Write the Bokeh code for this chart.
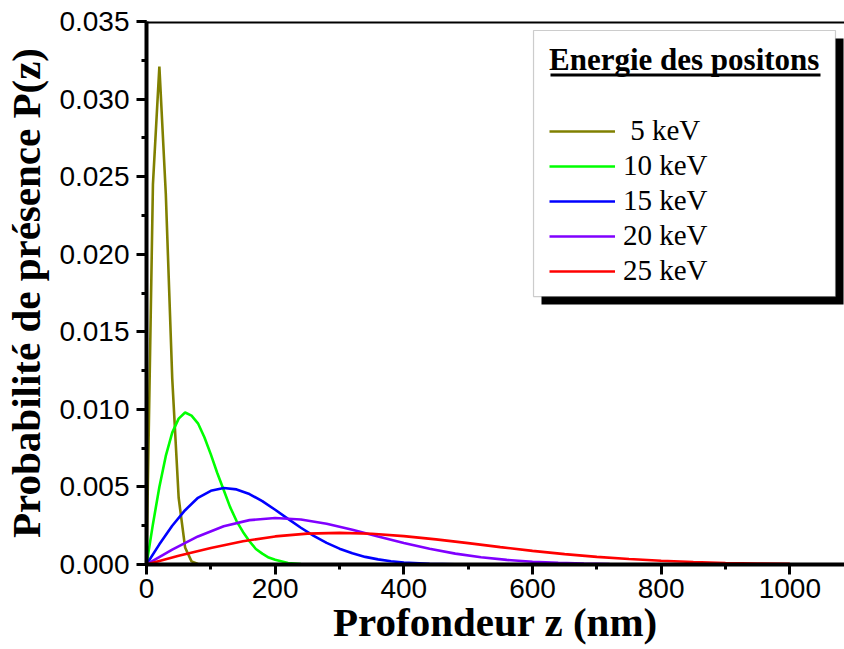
from bokeh.plotting import figure
from bokeh.models import (Range1d, BoxAnnotation, Legend, LegendItem, Span,
                          SingleIntervalTicker, NumeralTickFormatter)
from bokeh.embed import file_html
from bokeh.resources import INLINE

# ---- data ----
z_5kev = [0, 10, 20, 30, 40, 50, 60, 70, 80, 90, 1000]
p_5kev = [0, 0.0245, 0.0321, 0.0239, 0.0120, 0.0043, 0.0011, 0.0002, 0.00003, 0, 0]

z_10kev = [0, 10, 20, 30, 40, 50, 60, 70, 80, 90, 100, 110, 120, 130, 140, 150,
           160, 170, 180, 190, 200, 220, 240, 260, 1000]
p_10kev = [0, 0.0026, 0.0050, 0.0070, 0.0085, 0.0094, 0.0098, 0.0096, 0.0091, 0.0082,
           0.0071, 0.0059, 0.0048, 0.0037, 0.0028, 0.0021, 0.0015, 0.0010, 0.0007,
           0.00045, 0.0003, 0.0001, 0.00003, 0.00001, 0]

z_15kev = [0, 20, 40, 60, 80, 100, 120, 140, 160, 180, 200, 220, 240, 260, 280, 300,
           320, 340, 360, 380, 400, 440, 480, 520, 1000]
p_15kev = [0, 0.0013, 0.0025, 0.0035, 0.0043, 0.00475, 0.00493, 0.00484, 0.00454,
           0.00408, 0.00353, 0.00294, 0.00237, 0.00184, 0.00139, 0.00102, 0.00072,
           0.00049, 0.00033, 0.00021, 0.00013, 0.00005, 0.00002, 0.000005, 0]

z_20kev = [0, 40, 80, 120, 160, 200, 240, 280, 320, 360, 400, 440, 480, 520, 560, 600,
           640, 680, 720, 760, 800, 1000]
p_20kev = [0, 0.00096, 0.00181, 0.00246, 0.00286, 0.00300, 0.00290, 0.00263, 0.00224,
           0.00181, 0.00139, 0.00101, 0.00070, 0.00047, 0.00030, 0.00018, 0.00011,
           0.00006, 0.00003, 0.000015, 0.000007, 0]

z_25kev = [0, 50, 100, 150, 200, 250, 300, 350, 400, 450, 500, 550, 600, 650, 700, 750,
           800, 850, 900, 950, 1000]
p_25kev = [0, 0.00056, 0.00107, 0.00150, 0.00181, 0.00199, 0.00204, 0.00198, 0.00183,
           0.00162, 0.00138, 0.00112, 0.00088, 0.00067, 0.00049, 0.00035, 0.00024,
           0.00016, 0.00010, 0.000064, 0.000039]

labels = [" 5 keV", "10 keV", "15 keV", "20 keV", "25 keV"]
colors = ["#808000", "#00ff00", "#0000ff", "#8000ff", "#ff0000"]
series = [(z_5kev, p_5kev), (z_10kev, p_10kev), (z_15kev, p_15kev),
          (z_20kev, p_20kev), (z_25kev, p_25kev)]
legend_title = "Energie des positons"

SERIF = "Liberation Serif"
SANS = "Liberation Sans"

p = figure(width=844, height=649, output_backend="svg", toolbar_location=None,
           x_range=Range1d(0, 1085), y_range=Range1d(0, 0.035),
           min_border_left=146, min_border_right=0, min_border_top=21,
           min_border_bottom=85,
           x_axis_label="Profondeur z (nm)",
           y_axis_label="Probabilité de présence P(z)")
p.xgrid.visible = False
p.ygrid.visible = False
p.outline_line_color = None
p.background_fill_color = "white"
p.border_fill_color = "white"

p.xaxis.ticker = SingleIntervalTicker(interval=200, num_minor_ticks=2)
p.yaxis.ticker = SingleIntervalTicker(interval=0.005, num_minor_ticks=2)
p.yaxis.formatter = NumeralTickFormatter(format="0.000")

for ax in (p.xaxis[0], p.yaxis[0]):
    ax.axis_line_width = 4
    ax.axis_line_color = "black"
    ax.major_tick_line_width = 3
    ax.minor_tick_line_width = 3
    ax.major_tick_out = 10
    ax.major_tick_in = 0
    ax.minor_tick_out = 5
    ax.minor_tick_in = 0
    ax.major_label_text_font = SANS
    ax.major_label_text_font_size = "28px"
    ax.major_label_text_color = "black"
    ax.axis_label_text_font = SERIF
    ax.axis_label_text_font_style = "bold"
    ax.axis_label_text_font_size = "41px"
    ax.axis_label_text_color = "black"

p.xaxis.major_label_standoff = 4
p.xaxis.axis_label_standoff = -2
p.yaxis.major_label_standoff = 7
p.yaxis.axis_label_standoff = 7

# top frame line
p.add_layout(Span(location=0.035, dimension="width", line_color="black", line_width=4))

renderers = []
for (zs, ps), c in zip(series, colors):
    r = p.line(zs, ps, line_color=c, line_width=2.6)
    renderers.append(r)

# legend frame with shadow (positions in data units of the fixed ranges)
shadow = BoxAnnotation(left=614.0, right=1083.5, top=0.03390, bottom=0.01676,
                       fill_color="black", fill_alpha=1, line_color=None)
box = BoxAnnotation(left=601.6, right=1071.0, top=0.03442, bottom=0.01727,
                    fill_color="white", fill_alpha=1, line_color="#555555",
                    line_width=1.2)
underline = BoxAnnotation(left=628.0, right=1047.7, top=0.031649, bottom=0.031456,
                          fill_color="black", fill_alpha=1, line_color=None)
p.add_layout(shadow)
p.add_layout(box)
p.add_layout(underline)

legend = Legend(items=[LegendItem(label=l, renderers=[r]) for l, r in zip(labels, renderers)],
                title=legend_title, title_text_font=SERIF, title_text_font_style="bold",
                title_text_font_size="31px", title_text_color="black", title_standoff=36,
                label_text_font=SERIF, label_text_font_size="29px", label_text_color="black",
                glyph_width=66, glyph_height=32, label_height=32, spacing=2,
                label_standoff=8, padding=0, margin=0,
                border_line_color=None, background_fill_alpha=0,
                location=(403, 277))
p.add_layout(legend, "center")

open("out.html", "w").write(file_html(p, INLINE))
